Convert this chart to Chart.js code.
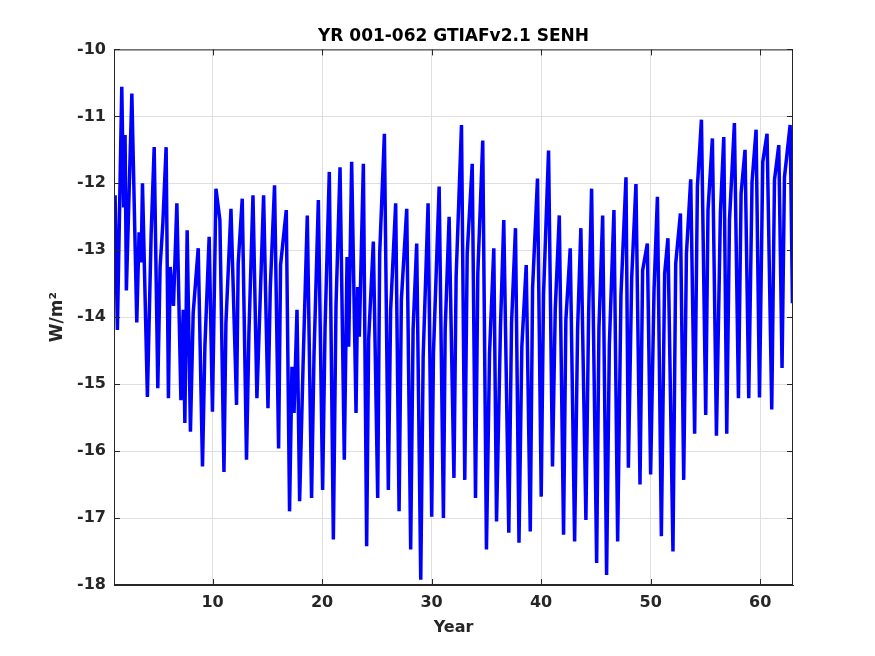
<!DOCTYPE html>
<html>
<head>
<meta charset="utf-8">
<script src="https://cdn.jsdelivr.net/npm/chart.js@4.4.1/dist/chart.umd.min.js"></script>
<style>
  body { margin: 0; background: #fff; }
  canvas { display: block; }
</style>
</head>
<body>
<canvas id="senhChart" width="875" height="656"></canvas>
<script>
// Valores (picos, vales e ombros da série mensal)
const yearPos = [
  1.00, 1.10, 1.31, 1.71, 1.88, 2.01, 2.13, 2.63, 3.08, 3.29, 3.48, 3.60, 4.05, 4.39, 4.67, 5.00,
  5.21, 5.46, 5.76, 5.97, 6.13, 6.43, 6.74, 7.11, 7.32, 7.47, 7.68, 7.98, 8.23, 8.69, 9.08, 9.30,
  9.69, 9.99, 10.31, 10.67, 11.04, 11.22, 11.68, 12.19, 12.34, 12.71, 13.10, 13.32, 13.69, 14.05,
  14.66, 15.06, 15.27, 15.66, 16.03, 16.21, 16.73, 17.03, 17.25, 17.44, 17.71, 17.95, 18.26, 18.65,
  19.04, 19.26, 19.66, 20.05, 20.27, 20.66, 21.03, 21.27, 21.64, 22.03, 22.28, 22.43, 22.70, 23.10,
  23.25, 23.40, 23.77, 24.07, 24.25, 24.68, 25.08, 25.26, 25.69, 26.05, 26.26, 26.72, 27.03, 27.24,
  27.73, 28.09, 28.31, 28.64, 29.01, 29.23, 29.68, 30.01, 30.17, 30.69, 31.08, 31.24, 31.60, 32.04,
  32.24, 32.73, 33.03, 33.25, 33.71, 34.01, 34.22, 34.67, 35.01, 35.29, 35.68, 35.93, 36.29, 36.59,
  37.05, 37.30, 37.66, 37.98, 38.24, 38.64, 39.01, 39.22, 39.67, 40.01, 40.22, 40.68, 41.04, 41.29,
  41.66, 42.05, 42.26, 42.66, 43.06, 43.33, 43.63, 44.09, 44.34, 44.61, 45.07, 45.28, 45.62, 45.98,
  46.23, 46.65, 46.99, 47.29, 47.75, 47.97, 48.27, 48.66, 49.03, 49.27, 49.70, 50.00, 50.31, 50.62,
  50.98, 51.28, 51.58, 52.04, 52.29, 52.72, 53.02, 53.27, 53.66, 54.02, 54.27, 54.64, 55.03, 55.24,
  55.64, 56.01, 56.37, 56.68, 56.95, 57.20, 57.65, 58.02, 58.26, 58.62, 58.96, 59.26, 59.63, 59.94,
  60.24, 60.63, 61.06, 61.31, 61.70, 62.00, 62.22, 62.74, 62.95
];
const senhVals = [
  -13.25, -12.18, -14.19, -10.56, -12.36, -11.28, -13.60, -10.66, -14.08, -12.73, -13.18, -12.00, -15.19, -12.77, -11.46, -15.06,
  -13.25, -12.60, -11.46, -15.21, -13.25, -13.83, -12.30, -15.24, -13.89, -15.58, -12.70, -15.71, -13.94, -12.97, -16.23, -14.44,
  -12.80, -15.41, -12.08, -12.55, -16.31, -14.09, -12.38, -15.31, -13.20, -12.23, -16.13, -14.24, -12.18, -15.21,
  -12.18, -15.36, -13.57, -12.03, -15.96, -13.22, -12.40, -16.90, -14.74, -15.43, -13.89, -16.75, -14.74, -12.48,
  -16.70, -14.59, -12.25, -16.58, -14.17, -11.83, -17.32, -13.84, -11.76, -16.13, -13.10, -14.44, -11.68, -15.43,
  -13.55, -14.29, -11.71, -17.42, -14.34, -12.87, -16.70, -13.05, -11.26, -16.58, -13.89, -12.30, -16.90, -13.74,
  -12.38, -17.47, -14.19, -12.90, -17.92, -14.59, -12.30, -16.98, -14.54, -12.05, -17.00, -14.19, -12.50, -16.40,
  -13.40, -11.13, -16.43, -13.05, -11.71, -16.70, -13.35, -11.36, -17.47, -14.54, -12.97, -17.05, -14.14, -12.55,
  -17.22, -14.09, -12.67, -17.37, -14.44, -13.22, -17.20, -13.57, -11.93, -16.68, -13.67, -11.51, -16.23, -13.89,
  -12.48, -17.25, -14.04, -12.97, -17.35, -14.19, -12.67, -17.03, -13.94, -12.08, -17.67, -14.17, -12.48, -17.85,
  -14.42, -12.40, -17.35, -13.67, -11.91, -16.25, -13.42, -12.01, -16.50, -13.30, -12.90, -16.35, -13.60, -12.20,
  -17.27, -13.35, -12.82, -17.50, -13.20, -12.45, -16.43, -13.05, -11.94, -15.74, -12.05, -11.05, -15.46, -12.40,
  -11.33, -15.77, -12.45, -11.31, -15.74, -12.55, -11.10, -15.21, -12.15, -11.50, -15.21, -11.98, -11.20, -15.20,
  -11.68, -11.26, -15.38, -11.95, -11.43, -14.76, -11.91, -11.13, -13.79
];
const xTickVals = [10, 20, 30, 40, 50, 60];
const yTickVals = [-18, -17, -16, -15, -14, -13, -12, -11, -10];

const axisColor = '#262626';
const tickFont = { family: 'DejaVu Sans', size: 16, weight: 'bold' };

// Moldura da caixa com marcas de escala para dentro (estilo MATLAB)
const boxFrame = {
    id: 'boxFrame',
    afterDatasetsDraw(chart) {
        const { ctx, chartArea: a, scales } = chart;
        ctx.save();
        ctx.strokeStyle = axisColor;
        ctx.lineWidth = 1;
        ctx.strokeRect(a.left + 0.5, a.top + 0.5, a.right - a.left - 1, a.bottom - a.top - 1);
        ctx.beginPath();
        xTickVals.forEach(v => {
            let px = Math.round(scales.x.getPixelForValue(v)) + 0.5;
            ctx.moveTo(px, a.bottom); ctx.lineTo(px, a.bottom - 6);
            ctx.moveTo(px, a.top); ctx.lineTo(px, a.top + 6);
        });
        yTickVals.forEach(v => {
            let py = Math.round(scales.y.getPixelForValue(v)) + 0.5;
            ctx.moveTo(a.left, py); ctx.lineTo(a.left + 6, py);
            ctx.moveTo(a.right, py); ctx.lineTo(a.right - 6, py);
        });
        ctx.stroke();
        ctx.restore();
    }
};

let senhChart = new Chart(document.getElementById('senhChart').getContext('2d'), {
    type: 'line',
    data: {
        datasets: [{
            label: 'SENH',
            data: yearPos.map((x, i) => ({ x: x, y: senhVals[i] })),
            borderColor: '#0000ff',
            borderWidth: 3.5,
            borderJoinStyle: 'bevel',
            pointRadius: 0,
            tension: 0,
            fill: false
        }]
    },
    options: {
        responsive: false,
        devicePixelRatio: 1,
        animation: false,
        layout: { padding: { left: 0, right: 82, top: 0, bottom: 0 } },
        plugins: {
            legend: { display: false },
            tooltip: { enabled: false },
            title: {
                display: true,
                fullSize: false,
                text: 'YR 001-062 GTIAFv2.1 SENH',
                color: '#000',
                font: { family: 'DejaVu Sans', size: 17, weight: 'bold' },
                padding: { top: 26, bottom: 3 }
            }
        },
        scales: {
            x: {
                type: 'linear',
                min: 1,
                max: 63,
                afterBuildTicks: s => { s.ticks = xTickVals.map(v => ({ value: v })); },
                afterFit: s => { s.height = 71; },
                grid: { color: '#dfdfdf', drawTicks: false },
                border: { color: axisColor },
                ticks: { color: axisColor, font: tickFont, padding: 8, maxRotation: 0 },
                title: {
                    display: true, text: 'Year', color: axisColor,
                    font: { family: 'DejaVu Sans', size: 16, weight: 'bold' },
                    padding: { top: 0, bottom: 19 }
                }
            },
            y: {
                min: -18,
                max: -10,
                afterBuildTicks: s => { s.ticks = yTickVals.map(v => ({ value: v })); },
                afterFit: s => { s.width = 114; },
                grid: { color: '#dfdfdf', drawTicks: false },
                border: { color: axisColor },
                ticks: { color: axisColor, font: tickFont, padding: 8 },
                title: {
                    display: true, text: 'W/m²', color: axisColor,
                    font: { family: 'DejaVu Sans', size: 17, weight: 'bold' },
                    padding: { top: 47, bottom: 0 }
                }
            }
        }
    },
    plugins: [boxFrame]
});
</script>
</body>
</html>
